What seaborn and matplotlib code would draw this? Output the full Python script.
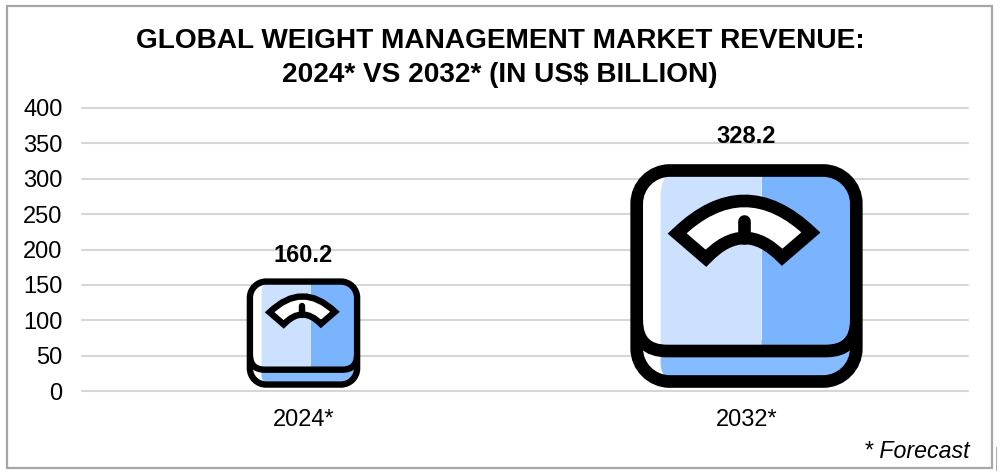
import matplotlib
matplotlib.use("Agg")
import matplotlib.pyplot as plt
import matplotlib.patches as mpatches
from matplotlib.lines import Line2D
from matplotlib.path import Path
from matplotlib.transforms import Affine2D
import pandas as pd
import seaborn as sns

years = ["2024*", "2032*"]
revenue = [160.2, 328.2]
y_ticks = [0, 50, 100, 150, 200, 250, 300, 350, 400]
title = "GLOBAL WEIGHT MANAGEMENT MARKET REVENUE:\n2024* VS 2032* (IN US$ BILLION)"

LIGHT = "#CCE0FF"
BLUE = "#7AB4FF"
BASE_BLUE = "#85BBFF"

W, H = 1003, 474
sns.set_theme(style="white")
plt.rcParams["font.family"] = ["Liberation Sans", "DejaVu Sans"]

fig = plt.figure(figsize=(W / 100, H / 100), dpi=100)
ax = fig.add_axes([82 / W, 1 - 391 / H, 886 / W, 283 / H])

df = pd.DataFrame({"year": years, "revenue": revenue})
sns.barplot(data=df, x="year", y="revenue", ax=ax, width=0.5)
ax.set_xlim(-0.5, 1.5)
ax.set_ylim(0, 400)
ax.set_yticks(y_ticks)
ax.set_xlabel("")
ax.set_ylabel("")
ax.tick_params(axis="y", length=0, labelsize=17, pad=14, labelcolor="black")
ax.tick_params(axis="x", length=0, labelsize=17, pad=13, labelcolor="black")
ax.yaxis.grid(True, color="#D6D6D6", linewidth=1.5)
for line in ax.get_ygridlines():
    line.set_clip_on(False)
ax.set_axisbelow(True)
sns.despine(ax=ax, left=True, bottom=True)

# the bars only carry the labels, the scales are drawn on top
for c in ax.containers:
    ax.bar_label(c, fmt="%.1f", padding=8, fontsize=17, fontweight="bold", color="black")
    for p in c:
        p.set_alpha(0)


def rounded(x0, y0, x1, y1, r):
    k = r * 0.45
    verts = [(x0 + r, y0), (x1 - r, y0), (x1 - k, y0), (x1, y0 + k), (x1, y0 + r),
             (x1, y1 - r), (x1, y1 - k), (x1 - k, y1), (x1 - r, y1),
             (x0 + r, y1), (x0 + k, y1), (x0, y1 - k), (x0, y1 - r),
             (x0, y0 + r), (x0, y0 + k), (x0 + k, y0), (x0 + r, y0), (x0 + r, y0)]
    codes = [Path.MOVETO, Path.LINETO, Path.CURVE4, Path.CURVE4, Path.CURVE4,
             Path.LINETO, Path.CURVE4, Path.CURVE4, Path.CURVE4,
             Path.LINETO, Path.CURVE4, Path.CURVE4, Path.CURVE4,
             Path.LINETO, Path.CURVE4, Path.CURVE4, Path.CURVE4, Path.CLOSEPOLY]
    return Path(verts, codes)


def draw_scale(ax, cx, value):
    # icon is drawn in its own units, 699 wide by 673 high, y pointing down
    units_h = value * 0.96 / 673
    x_per_px = 2 / 886
    y_per_px = 400 / 283
    px_per_unit = units_h / y_per_px
    sx = px_per_unit * x_per_px
    tr = (Affine2D().translate(-349.5, -673).scale(sx, -units_h).translate(cx, 5) + ax.transData)
    lw = (37 * px_per_unit + 0.4) * 72 / 100

    def add(path, **kw):
        patch = mpatches.PathPatch(path, transform=tr, zorder=3, **kw)
        ax.add_patch(patch)
        return patch

    outline = rounded(18, 18, 681, 655, 100)
    add(outline, facecolor="white", edgecolor="none")

    light = Path([(125, 18), (90, 40), (90, 95), (90, 563), (395, 563), (395, 18), (125, 18)],
                 [Path.MOVETO, Path.CURVE3, Path.CURVE3, Path.LINETO, Path.LINETO, Path.LINETO, Path.CLOSEPOLY])
    dark = Path([(395, 18), (681, 18), (681, 563), (395, 563), (395, 18)],
                [Path.MOVETO, Path.LINETO, Path.LINETO, Path.LINETO, Path.CLOSEPOLY])
    base = Path([(90, 563), (681, 500), (681, 655), (125, 655), (90, 640), (90, 600), (90, 563)],
                [Path.MOVETO, Path.LINETO, Path.LINETO, Path.LINETO, Path.CURVE3, Path.CURVE3, Path.CLOSEPOLY])
    for path, col in [(base, BASE_BLUE), (light, LIGHT), (dark, BLUE)]:
        add(path, facecolor=col, edgecolor="none").set_clip_path(outline, tr)

    # body lower edge, the base shows under it, clipped so it stays inside the frame
    edge = Path([(18, 470), (18, 563), (110, 563), (589, 563), (681, 563), (681, 470)],
                [Path.MOVETO, Path.CURVE3, Path.CURVE3, Path.LINETO, Path.CURVE3, Path.CURVE3])
    add(edge, facecolor="none", edgecolor="black", linewidth=lw).set_clip_path(outline, tr)
    add(outline, facecolor="none", edgecolor="black", linewidth=lw)

    # dial
    dial = Path([(140, 208), (342, 13), (544, 205), (457, 280), (342, 162), (227, 283), (140, 208)],
                [Path.MOVETO, Path.CURVE3, Path.CURVE3, Path.LINETO, Path.CURVE3, Path.CURVE3, Path.CLOSEPOLY])
    add(dial, facecolor="white", edgecolor="black", linewidth=lw, joinstyle="miter")
    needle = Path([(342, 222), (342, 170)], [Path.MOVETO, Path.LINETO])
    add(needle, facecolor="none", edgecolor="black", linewidth=lw, capstyle="round")


for i, val in enumerate(revenue):
    draw_scale(ax, i, val)

fig.text(500 / W, 1 - 58 / H, title, ha="center", va="center", fontsize=20.15,
         fontweight="bold", color="black", linespacing=1.36)
fig.text(970 / W, 1 - 452 / H, "* Forecast", ha="right", va="center", fontsize=16.7,
         style="italic", color="black")

# outer frame of the picture, with the small doubled corner at bottom right
fig.add_artist(mpatches.Rectangle((7.5 / W, 1 - 468 / H), 985 / W, 462 / H, transform=fig.transFigure,
                                  facecolor="none", edgecolor="#A6A6A6", linewidth=1.6))
fig.add_artist(Line2D([996 / W, 996 / W], [1 - 447 / H, 1 - 470 / H], transform=fig.transFigure,
                      color="#B0B0B0", linewidth=0.8))

fig.savefig("out.png", dpi=100, facecolor="white")
